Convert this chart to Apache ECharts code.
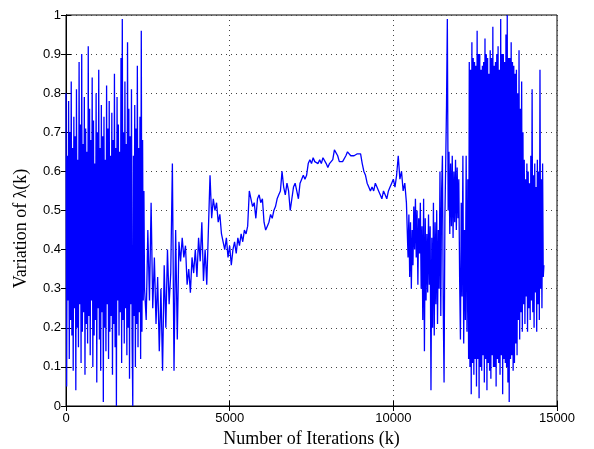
<!DOCTYPE html>
<html>
<head>
<meta charset="utf-8">
<script src="https://cdn.jsdelivr.net/npm/echarts@6/dist/echarts.min.js"></script>
<style>
  html, body { margin: 0; padding: 0; background: #fff; }
  #chart { width: 594px; height: 449px; }
</style>
</head>
<body>
<div id="chart"></div>
<script>
  const startNoiseFrom = 0, startNoiseStep = 20
  const startNoise = [0.80, 0.05, 0.64, 0.27, 0.78, 0.12, 0.70, 0.22, 0.83, 0.18, 0.66, 0.09, 0.74, 0.25, 0.69, 0.04,
    0.81, 0.20, 0.63, 0.15, 0.88, 0.26, 0.72, 0.11, 0.90, 0.19, 0.67, 0.24, 0.79, 0.08, 0.71, 0.21,
    0.65, 0.16, 0.92, 0.23, 0.76, 0.13, 0.68, 0.27, 0.84, 0.10, 0.73, 0.18, 0.62, 0.22, 0.80, 0.06,
    0.70, 0.25, 0.86, 0.17, 0.66, 0.09, 0.77, 0.24, 0.69, 0.01, 0.74, 0.20, 0.63, 0.14, 0.82, 0.26,
    0.71, 0.12, 0.78, 0.19, 0.64, 0.23, 0.75, 0.08, 0.68, 0.21, 0.85, 0.15, 0.66, 0.00, 0.79, 0.27,
    0.72, 0.18, 0.65, 0.24, 0.89, 0.11, 0.99, 0.22, 0.70, 0.16, 0.83, 0.25, 0.67, 0.13, 0.93, 0.20,
    0.76, 0.07, 0.69, 0.26, 0.81, 0.17, 0.00, 0.64, 0.23, 0.77, 0.10, 0.71, 0.21, 0.87, 0.15, 0.66,
    0.24, 0.74, 0.12, 0.96, 0.19, 0.68, 0.27, 0.55, 0.30]
  const settlingFrom = 2450, settlingStep = 50
  const settling = [0.22, 0.45, 0.27, 0.52, 0.25, 0.38, 0.21, 0.33, 0.14, 0.30, 0.09, 0.36, 0.20, 0.40, 0.26, 0.34,
    0.62, 0.09, 0.45, 0.17, 0.42, 0.37, 0.43, 0.38, 0.41, 0.31, 0.35, 0.29, 0.38, 0.34, 0.40, 0.33,
    0.43, 0.37, 0.47, 0.32, 0.40, 0.31, 0.45]
  const smoothFrom = 4400, smoothStep = 50
  const smoothRise = [0.59, 0.48, 0.53, 0.50, 0.52, 0.47, 0.49, 0.44, 0.42, 0.40, 0.43, 0.38, 0.41, 0.36, 0.40, 0.42,
    0.39, 0.43, 0.41, 0.44, 0.42, 0.45, 0.44, 0.46, 0.55, 0.53, 0.51, 0.52, 0.48, 0.53, 0.54, 0.52,
    0.53, 0.47, 0.45, 0.46, 0.47, 0.49, 0.48, 0.50, 0.51, 0.53, 0.54, 0.55, 0.60, 0.56, 0.54, 0.57,
    0.55, 0.50, 0.53, 0.56, 0.57, 0.55, 0.53, 0.57, 0.58, 0.59, 0.58, 0.59, 0.62, 0.63, 0.62, 0.635,
    0.625, 0.63, 0.62, 0.63, 0.62, 0.635, 0.63, 0.62, 0.61, 0.62, 0.615, 0.63, 0.655, 0.66, 0.64, 0.625,
    0.62, 0.625, 0.63, 0.64, 0.65, 0.645, 0.64, 0.645, 0.64, 0.645, 0.645, 0.64, 0.645, 0.62, 0.60, 0.59,
    0.57, 0.56, 0.55, 0.56, 0.55, 0.57, 0.56, 0.55, 0.54, 0.53, 0.55, 0.54, 0.53, 0.55, 0.56, 0.57,
    0.58, 0.56, 0.59, 0.64, 0.58, 0.60, 0.55, 0.57, 0.52]
  const unsettlingFrom = 10425, unsettlingStep = 25
  const unsettling = [0.52, 0.38, 0.49, 0.33, 0.47, 0.30, 0.45, 0.36, 0.51, 0.40, 0.53, 0.38, 0.50, 0.31, 0.48, 0.39,
    0.52, 0.30, 0.46, 0.22, 0.53, 0.14, 0.48, 0.27, 0.44, 0.29, 0.49, 0.31, 0.46, 0.04, 0.43, 0.20,
    0.52, 0.18, 0.47, 0.26, 0.50, 0.21, 0.45, 0.30, 0.60, 0.23, 0.55, 0.64, 0.25, 0.06, 0.48, 0.62,
    0.77, 0.99, 0.50, 0.65, 0.44, 0.62, 0.46, 0.64, 0.43, 0.60, 0.47, 0.63, 0.45, 0.61, 0.48, 0.58,
    0.33, 0.17, 0.52, 0.28, 0.64, 0.16, 0.45, 0.22, 0.64, 0.19, 0.58, 0.12]
  const endNoiseFrom = 12320, endNoiseStep = 20
  const endNoise = [0.88, 0.10, 0.86, 0.03, 0.93, 0.11, 0.89, 0.08, 0.88, 0.12, 0.87, 0.05, 0.96, 0.12, 0.90, 0.02,
    0.90, 0.10, 0.86, 0.09, 0.87, 0.13, 0.88, 0.06, 0.94, 0.12, 0.90, 0.04, 0.89, 0.11, 0.85, 0.09,
    0.91, 0.07, 0.89, 0.13, 0.97, 0.10, 0.87, 0.10, 0.88, 0.05, 0.90, 0.12, 0.92, 0.11, 0.86, 0.08,
    0.99, 0.13, 0.90, 0.03, 0.90, 0.12, 0.88, 0.11, 0.95, 0.10, 1.00, 0.06, 0.89, 0.01, 0.89, 0.12,
    0.93, 0.13, 0.88, 0.09, 0.87, 0.11, 0.85, 0.16, 0.86, 0.13, 0.80, 0.22, 0.91, 0.17, 0.76, 0.24,
    0.83, 0.19, 0.70, 0.26, 0.63, 0.21, 0.58, 0.28, 0.62, 0.19, 0.60, 0.25, 0.57, 0.22, 0.64, 0.27,
    0.81, 0.24, 0.59, 0.20, 0.62, 0.29, 0.56, 0.19, 0.63, 0.26, 0.60, 0.22, 0.86, 0.30, 0.58, 0.25,
    0.62, 0.33, 0.36]
  const xTicks = [0, 5000, 10000, 15000]

  function toPoints(from, step, values) {
    return values.map((v, i) => [from + i * step, v])
  }
  const seriesData = [].concat(
    toPoints(startNoiseFrom, startNoiseStep, startNoise),
    toPoints(settlingFrom, settlingStep, settling),
    toPoints(smoothFrom, smoothStep, smoothRise),
    toPoints(unsettlingFrom, unsettlingStep, unsettling),
    toPoints(endNoiseFrom, endNoiseStep, endNoise)
  )

  const chart = echarts.init(document.getElementById('chart'))
  const tickFont = { color: '#000', fontFamily: 'Liberation Sans, Arial', fontSize: 13 }
  const nameFont = { color: '#000', fontFamily: 'Liberation Serif, Times New Roman', fontSize: 18 }
  const inTick = { show: true, inside: true, length: 5, lineStyle: { color: '#000', width: 1 } }
  const dotted = { show: true, lineStyle: { color: '#444', type: [1, 4], width: 1 } }

  chart.setOption({
    animation: false,
    grid: {
      left: 66, right: 37, top: 15, bottom: 43,
      outerBoundsMode: 'none',
      show: true, borderColor: '#000', borderWidth: 1, backgroundColor: '#fff'
    },
    xAxis: [{
      type: 'value',
      min: xTicks[0],
      max: xTicks[xTicks.length - 1],
      interval: 5000,
      name: 'Number of Iterations (k)',
      nameLocation: 'middle',
      nameGap: 24,
      nameTextStyle: nameFont,
      axisLine: { show: true, lineStyle: { color: '#000', width: 1 } },
      axisTick: inTick,
      axisLabel: Object.assign({ margin: 6, formatter: v => String(v) }, tickFont),
      splitLine: dotted
    }, {
      type: 'value',
      position: 'top',
      min: xTicks[0],
      max: xTicks[xTicks.length - 1],
      interval: 5000,
      axisLine: { show: true, lineStyle: { color: '#000', width: 1 } },
      axisTick: inTick,
      axisLabel: { show: false },
      splitLine: { show: false }
    }],
    yAxis: [{
      type: 'value',
      min: 0,
      max: 1,
      interval: 0.1,
      name: 'Variation of λ(k)',
      nameLocation: 'middle',
      nameGap: 36,
      nameTextStyle: Object.assign({ padding: [0, 36, 0, 0] }, nameFont),
      axisLine: { show: true, lineStyle: { color: '#000', width: 1 } },
      axisTick: inTick,
      axisLabel: Object.assign({ margin: 5 }, tickFont),
      splitLine: dotted
    }, {
      type: 'value',
      position: 'right',
      min: 0,
      max: 1,
      interval: 0.1,
      axisLine: { show: true, lineStyle: { color: '#000', width: 1 } },
      axisTick: inTick,
      axisLabel: { show: false },
      splitLine: { show: false }
    }],
    series: [{
      type: 'line',
      data: seriesData,
      showSymbol: false,
      lineStyle: { color: '#0000ff', width: 1.3 },
      z: 3
    }]
  })
</script>
</body>
</html>
